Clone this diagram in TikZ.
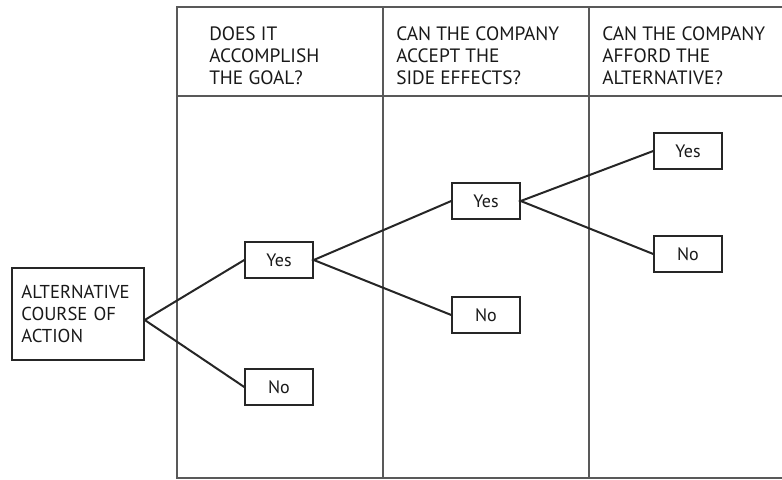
\documentclass[tikz,border=0pt]{standalone}
\usepackage{fontspec}
\setmainfont{PT Sans}
\begin{document}
\begin{tikzpicture}[x=0.75pt,y=-0.75pt,
  ink/.style={draw=black!85},
  grid/.style={draw=black!65,line width=1.5pt},
  choice/.style={ink,line width=1.1pt,minimum width=51pt,minimum height=27pt,
    inner sep=0pt,font=\fontsize{13.5}{15}\selectfont,text=black!90},
  startbox/.style={ink,line width=1.1pt,minimum width=99pt,minimum height=69pt,
    inner xsep=7pt,text width=85pt,align=left,
    font=\fontsize{14}{16.2}\selectfont,text=black!90},
  header/.style={anchor=north west,inner sep=0pt,align=left,
    font=\fontsize{14.5}{16.5}\selectfont,text=black!90},
  branch/.style={draw=black!85,line width=1.5pt}]
\useasboundingbox (0,0) rectangle (782,479);

% table frame: open on the right
\draw[grid] (782,7) -- (177,7) -- (177,478) -- (782,478);
\draw[grid] (177,96) -- (782,96);
\draw[grid] (383,7) -- (383,478);
\draw[grid] (589,7) -- (589,478);

% column headings
\node[header] (h1) at (209,26) {DOES IT\\ACCOMPLISH\\THE GOAL?};
\node[header] (h2) at (396,26) {CAN THE COMPANY\\ACCEPT THE\\SIDE EFFECTS?};
\node[header] (h3) at (602,26) {CAN THE COMPANY\\AFFORD THE\\ALTERNATIVE?};

% decision tree
\node[startbox] (alt) at (78,314) {ALTERNATIVE\\COURSE OF\\ACTION};
\node[choice] (yes1) at (279,260) {Yes};
\node[choice] (no1)  at (279,387) {No};
\node[choice] (yes2) at (486,201) {Yes};
\node[choice] (no2)  at (486,315) {No};
\node[choice] (yes3) at (688,151) {Yes};
\node[choice] (no3)  at (688,254) {No};

\draw[branch] (yes1.west) -- ([yshift=-4.5pt]alt.east) -- (no1.west);
\draw[branch] (yes2.west) -- (yes1.east) -- (no2.west);
\draw[branch] (yes3.west) -- (yes2.east) -- (no3.west);
\end{tikzpicture}
\end{document}
